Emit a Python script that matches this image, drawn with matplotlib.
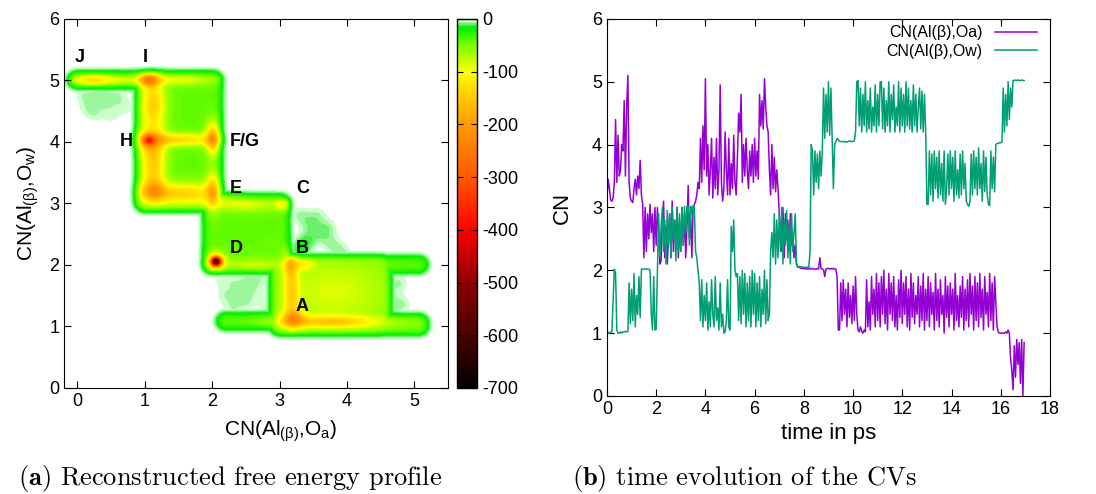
import numpy as np
import matplotlib.pyplot as plt
from matplotlib.colors import LinearSegmentedColormap

plt.rcParams['font.family'] = ['Liberation Sans', 'DejaVu Sans']
plt.rcParams['mathtext.fontset'] = 'custom'
plt.rcParams['mathtext.rm'] = 'Liberation Sans'
plt.rcParams['mathtext.it'] = 'Liberation Sans:italic'
plt.rcParams['mathtext.bf'] = 'Liberation Sans:bold'
plt.rcParams['axes.unicode_minus'] = False

# ---------------- (b) time evolution of the CVs, one value every 0.05 ps
dt = 0.05
cn_oa = [
    3.15, 3.45, 3.3, 3.12, 3.1, 3.15, 3.4, 4.4, 3.4, 4.15, 3.5, 3.6, 4.0, 3.9, 4.7, 3.5, 4.6, 5.1, 3.4, 3.15,
    3.1, 3.08, 3.3, 3.45, 3.2, 3.5, 3.3, 3.75, 3.2, 3.05, 2.2, 3.0, 2.3, 2.9, 2.5, 3.05, 2.6, 2.9, 2.3, 3.0,
    2.4, 3.0, 2.6, 2.1, 2.15, 2.8, 3.1, 2.2, 2.7, 2.1, 2.5, 2.9, 2.2, 3.1, 2.3, 2.8, 2.4, 3.0, 2.2, 2.7,
    2.3, 3.0, 2.4, 2.9, 2.2, 2.7, 3.35, 2.5, 2.9, 2.2, 3.0, 3.05, 3.1, 3.2, 3.4, 3.3, 4.1, 3.4, 4.3, 3.6,
    5.05, 3.5, 4.0, 3.2, 3.6, 4.1, 3.15, 3.8, 3.3, 4.1, 3.2, 3.6, 4.95, 3.4, 3.1, 3.3, 4.2, 3.6, 3.2, 4.1,
    3.2, 3.7, 3.3, 4.15, 3.4, 3.2, 3.8, 4.5, 4.2, 4.8, 3.4, 4.0, 3.5, 4.1, 3.6, 3.3, 3.9, 3.5, 4.0, 3.4,
    4.1, 3.5, 3.9, 3.45, 4.8, 4.3, 4.7, 4.25, 5.05, 4.6, 4.3, 4.2, 3.6, 3.2, 4.0, 3.3, 3.8, 3.25, 3.6, 3.3,
    2.9, 2.6, 2.3, 3.0, 2.2, 2.9, 2.5, 2.8, 2.3, 2.9, 2.4, 2.6, 2.2, 2.4, 2.1, 2.05, 2.05, 2.04, 2.03, 2.03,
    2.03, 2.02, 2.03, 2.02, 2.02, 2.03, 2.02, 2.03, 2.02, 2.02, 2.02, 2.03, 2.02, 2.2, 2.03, 2.02, 2.01, 1.9, 2.02, 2.03,
    2.03, 2.02, 2.03, 2.02, 2.03, 2.02, 2.02, 1.9, 1.05, 1.05, 1.8, 1.2, 1.85, 1.3, 1.7, 1.1, 1.8, 1.25, 1.6, 1.15,
    1.75, 1.2, 1.9, 1.3, 1.05, 1.02, 1.1, 1.03, 1.0, 1.05, 1.02, 1.85, 1.1, 1.5, 1.05, 1.9, 1.3, 1.7, 1.1, 1.95,
    1.2, 1.8, 1.1, 1.9, 1.3, 2.0, 1.15, 1.7, 1.05, 1.95, 1.3, 1.8, 1.2, 1.9, 1.1, 1.6, 1.05, 1.85, 1.25, 2.0,
    1.15, 1.8, 1.3, 1.9, 1.1, 1.7, 1.05, 1.95, 1.25, 1.8, 1.15, 1.6, 1.3, 1.9, 1.1, 1.75, 1.2, 1.95, 1.05, 1.7,
    1.2, 1.9, 1.1, 1.8, 1.3, 1.65, 1.05, 1.95, 1.2, 1.7, 1.1, 1.85, 1.3, 1.6, 1.0, 1.9, 1.25, 1.75, 1.1, 1.8,
    1.3, 1.7, 1.05, 1.95, 1.2, 1.6, 1.1, 1.75, 1.25, 1.9, 1.05, 1.7, 1.2, 1.85, 1.1, 1.95, 1.3, 1.75, 1.05, 1.9,
    1.2, 1.8, 1.1, 1.95, 1.25, 1.7, 1.05, 1.9, 1.3, 1.65, 1.1, 1.95, 1.2, 1.8, 1.05, 1.9, 1.5, 1.1, 1.02, 1.0,
    1.0, 1.0, 1.0, 1.0, 1.02, 1.0, 1.05, 1.0, 0.6, 0.4, 0.1, 0.8, 0.3, 0.9, 0.5, 0.85, 0.2, 0.9, 0.0, 0.85,
]
cn_ow = [
    1.05, 1.0, 1.0, 1.02, 1.02, 1.5, 2.02, 1.95, 1.05, 1.0, 1.0, 1.02, 1.0, 1.02, 1.02, 1.03, 1.02, 1.03, 1.8, 1.15,
    1.7, 1.2, 1.95, 1.1, 1.6, 1.3, 1.9, 1.25, 2.02, 2.02, 2.02, 2.02, 2.02, 2.02, 2.02, 2.0, 1.3, 1.05, 1.9, 1.05,
    1.06, 2.0, 2.9, 2.2, 2.7, 3.0, 2.3, 2.8, 2.1, 2.95, 2.4, 2.9, 2.2, 3.0, 2.5, 2.8, 2.15, 3.0, 2.3, 2.9,
    2.3, 3.0, 2.4, 3.02, 2.6, 3.02, 3.02, 2.4, 3.02, 2.9, 3.03, 3.0, 2.3, 2.2, 2.0, 1.8, 1.2, 1.85, 1.1, 1.6,
    1.2, 1.8, 1.05, 1.5, 1.1, 1.85, 1.3, 1.1, 1.9, 1.2, 1.4, 1.05, 1.8, 1.1, 1.3, 1.0, 1.02, 1.2, 1.85, 1.1,
    1.05, 2.7, 2.3, 2.8, 2.0, 1.9, 1.95, 1.2, 1.9, 1.15, 2.0, 1.3, 1.95, 1.1, 1.8, 1.2, 1.9, 1.1, 2.0, 1.3,
    1.95, 1.1, 1.8, 1.2, 1.9, 1.1, 1.7, 1.3, 2.0, 1.15, 1.85, 1.2, 1.3, 2.3, 2.6, 2.2, 2.9, 2.1, 2.8, 2.2,
    2.9, 2.3, 3.0, 2.1, 2.8, 2.4, 2.95, 2.2, 2.7, 2.1, 2.9, 2.3, 2.6, 2.9, 2.1, 2.05, 2.06, 2.06, 2.05, 2.05,
    2.05, 2.04, 2.05, 2.05, 2.04, 2.3, 4.0, 3.9, 3.2, 3.9, 3.4, 3.85, 3.3, 3.9, 3.5, 3.9, 4.9, 4.1, 4.8, 4.2,
    5.0, 4.15, 4.9, 4.1, 3.3, 4.0, 4.05, 4.1, 4.08, 4.05, 4.05, 4.05, 4.05, 4.04, 4.05, 4.04, 4.05, 4.06, 4.05, 4.05,
    4.05, 4.06, 4.2, 5.0, 5.02, 4.3, 4.9, 4.2, 4.8, 4.3, 5.0, 4.2, 4.7, 4.25, 4.9, 4.2, 4.6, 4.3, 4.95, 4.2,
    4.8, 4.3, 5.0, 5.0, 4.25, 4.9, 4.2, 4.7, 4.3, 5.0, 4.2, 4.8, 4.4, 4.95, 4.2, 4.6, 4.3, 5.0, 4.2, 4.9,
    4.3, 4.8, 4.2, 5.0, 4.3, 4.9, 4.25, 4.7, 4.2, 4.95, 4.3, 4.8, 4.2, 4.6, 4.9, 4.25, 4.85, 4.2, 4.8, 4.2,
    3.05, 3.05, 3.9, 3.2, 3.85, 3.1, 3.9, 3.3, 3.8, 3.15, 3.9, 3.2, 3.7, 3.1, 3.9, 3.05, 3.3, 3.85, 3.2, 3.9,
    3.3, 3.8, 3.1, 3.9, 3.2, 3.6, 3.15, 3.85, 3.2, 3.9, 3.3, 3.7, 3.1, 3.05, 3.02, 3.1, 3.85, 3.2, 3.9, 3.3,
    3.8, 3.2, 3.95, 3.3, 3.7, 3.1, 3.9, 3.25, 3.8, 3.2, 3.05, 3.03, 3.9, 3.3, 3.8, 3.25, 4.0, 4.02, 4.02, 4.03,
    4.03, 4.04, 4.9, 4.2, 4.8, 4.3, 5.0, 4.4, 4.9, 4.6, 5.02, 5.02, 5.03, 5.02, 5.03, 5.02, 5.02, 5.03, 5.02, 5.02,
]
time_ps = np.arange(len(cn_oa)) * dt

# ---------------- (a) free energy landscape, read from the map
# sampled regions (rectangles in CN space) and their floor value
region_x0 = [0.0, 1.0, 2.0, 3.0, 3.0, 3.0, 2.2]
region_x1 = [1.0, 2.0, 3.0, 4.5, 5.05, 5.05, 3.0]
region_y0 = [5.0, 3.0, 2.0, 1.0, 1.0, 2.0, 1.08]
region_y1 = [5.0, 5.0, 3.0, 2.0, 1.05, 2.0, 1.08]
region_depth = [-45, -45, -45, -55, -50, -40, -40]

# minima / channels: centre, width, depth
well_x = [1.05, 1.12, 1.12, 1.05, 1.08, 1.5, 2.0, 1.5, 1.12, 2.0, 0.2, 0.6, 1.5,
          3.05, 2.5, 2.05, 2.05, 2.6, 3.15, 3.35, 3.17, 3.2, 3.75, 3.8]
well_y = [5.0, 4.6, 3.6, 4.02, 4.0, 4.03, 4.05, 3.15, 3.2, 3.2, 5.0, 5.0, 5.0,
          2.97, 2.97, 2.05, 2.05, 2.0, 2.0, 2.0, 1.5, 1.12, 1.07, 1.55]
well_sx = [0.1, 0.12, 0.12, 0.06, 0.15, 0.45, 0.07, 0.45, 0.12, 0.07, 0.18, 0.25, 0.35,
           0.08, 0.35, 0.05, 0.1, 0.3, 0.07, 0.1, 0.08, 0.12, 0.5, 0.5]
well_sy = [0.08, 0.3, 0.3, 0.06, 0.15, 0.07, 0.17, 0.12, 0.12, 0.2, 0.06, 0.05, 0.06,
           0.06, 0.07, 0.05, 0.1, 0.07, 0.15, 0.07, 0.3, 0.1, 0.07, 0.35]
well_depth = [-150, -100, -100, -170, -80, -90, -130, -100, -80, -100, -80, -40, -50,
              -60, -45, -500, -100, -35, -90, -50, -80, -110, -90, -35]

# weakly visited patches
haze_x = [0.15, 0.3, 0.45, 0.6, 0.25, 0.5, 0.7, 0.1, 0.38,
          2.2, 2.35, 2.5, 2.65, 2.8, 2.3, 2.75, 2.55, 2.45, 2.15,
          3.3, 3.45, 3.6, 3.75, 3.4, 3.9, 3.55, 3.3, 3.7,
          4.6, 4.75, 4.6, 4.8]
haze_y = [4.55, 4.7, 4.6, 4.75, 4.45, 4.4, 4.55, 4.75, 4.85,
          1.5, 1.7, 1.4, 1.6, 1.35, 1.3, 1.8, 1.8, 1.55, 1.75,
          2.8, 2.65, 2.5, 2.35, 2.4, 2.2, 2.8, 2.25, 2.6,
          1.5, 1.7, 1.25, 1.35]
haze_depth = [-4, -5, -4, -5, -4, -3, -4, -5, -4,
              -5, -4, -5, -4, -4, -5, -4, -5, -4, -4,
              -6, -7, -6, -6, -10, -7, -5, -14, -6,
              -6, -6, -6, -6]

gx = np.linspace(-0.2, 5.5, 571)
gy = np.linspace(0.0, 6.0, 601)
X, Y = np.meshgrid(gx, gy)

floor = np.zeros_like(X)
for x0, x1, y0, y1, d in zip(region_x0, region_x1, region_y0, region_y1, region_depth):
    dx = np.maximum(np.maximum(x0 - X, X - x1), 0)
    dy = np.maximum(np.maximum(y0 - Y, Y - y1), 0)
    dist = np.hypot(dx, dy)
    floor = np.minimum(floor, d / (1 + np.exp((dist - 0.12) / 0.035)))
inside = np.clip(floor / -38.0, 0, 1)

wells = np.zeros_like(X)
for cx, cy, sx, sy, d in zip(well_x, well_y, well_sx, well_sy, well_depth):
    wells += d * np.exp(-0.5 * (((X - cx) / sx) ** 2 + ((Y - cy) / sy) ** 2))

haze = np.zeros_like(X)
for cx, cy, d in zip(haze_x, haze_y, haze_depth):
    haze += d * np.exp(-0.5 * ((X - cx) ** 2 + (Y - cy) ** 2) / 0.1 ** 2)

fes = np.minimum(floor + wells * inside, haze)
fes = np.clip(fes, -700, 0)

cmap_vals = [-700, -600, -500, -400, -300, -200, -150, -100, -50, -15, -8, -3, 0]
cmap_cols = ['#000000', '#4a0000', '#8c0000', '#ff0000', '#ff5a00', '#ff9900',
             '#ffc800', '#ffff00', '#80ff00', '#00ee00', '#70f070', '#c8ffc8', '#ffffff']
cmap = LinearSegmentedColormap.from_list(
    'fes', [((v + 700) / 700, c) for v, c in zip(cmap_vals, cmap_cols)])

state_labels = ['J', 'I', 'H', 'F/G', 'E', 'C', 'D', 'B', 'A']
state_x = [0.04, 1.0, 0.72, 2.48, 2.35, 3.34, 2.35, 3.34, 3.34]
state_y = [5.38, 5.38, 4.0, 4.0, 3.25, 3.25, 2.26, 2.26, 1.33]

fig = plt.figure(figsize=(10.96, 4.94), dpi=100)

ax1 = fig.add_axes([0.0584, 0.2146, 0.3504, 0.747])
im = ax1.imshow(fes, extent=[-0.2, 5.5, 0, 6], origin='lower', cmap=cmap,
                vmin=-700, vmax=0, aspect='auto', interpolation='bilinear')
for lab, x, y in zip(state_labels, state_x, state_y):
    ax1.text(x, y, lab, fontsize=13, fontweight='bold', ha='center', va='center')
ax1.set_xlim(-0.2, 5.5)
ax1.set_ylim(0, 6)
ax1.set_xticks(range(0, 6))
ax1.set_yticks(range(0, 7))
ax1.tick_params(direction='in', top=True, right=True, length=5, labelsize=13)
ax1.set_xlabel(r'CN(Al$_{\mathrm{(β)}}$,O$_{\mathrm{a}}$)', fontsize=15, labelpad=6)
ax1.xaxis.label.set_x(0.565)
ax1.set_ylabel(r'CN(Al$_{\mathrm{(β)}}$,O$_{\mathrm{w}}$)', fontsize=15, labelpad=6)

cax = fig.add_axes([0.417, 0.2146, 0.01825, 0.747])
cb = fig.colorbar(im, cax=cax, ticks=range(-700, 1, 100))
cb.ax.tick_params(direction='in', left=True, right=True, length=4, labelsize=13)
cb.outline.set_linewidth(1.0)

ax2 = fig.add_axes([0.5538, 0.1984, 0.4042, 0.7632])
ax2.plot(time_ps, cn_oa, color='#9400D3', lw=1.1, label='CN(Al(β),Oa)')
ax2.plot(time_ps, cn_ow, color='#009E73', lw=1.1, label='CN(Al(β),Ow)')
ax2.set_xlim(0, 18)
ax2.set_ylim(0, 6)
ax2.set_xticks(range(0, 19, 2))
ax2.set_yticks(range(0, 7))
ax2.tick_params(direction='in', top=True, right=True, length=5, labelsize=13)
ax2.set_xlabel('time in ps', fontsize=16, labelpad=4)
ax2.set_ylabel('CN', fontsize=16, labelpad=14)
ax2.legend(loc='upper right', frameon=False, markerfirst=False, fontsize=11.5,
           handlelength=2.6, handletextpad=0.8, borderaxespad=0.0, labelspacing=0.2,
           bbox_to_anchor=(0.985, 1.0))

fig.text(0.016, 0.032, r'$\mathbf{(a)}$ Reconstructed free energy profile',
         fontfamily='cmr10', math_fontfamily='cm', fontsize=19, va='center')
fig.text(0.522, 0.032, r'$\mathbf{(b)}$ time evolution of the CVs',
         fontfamily='cmr10', math_fontfamily='cm', fontsize=19, va='center')

fig.savefig('out.png', dpi=100)
